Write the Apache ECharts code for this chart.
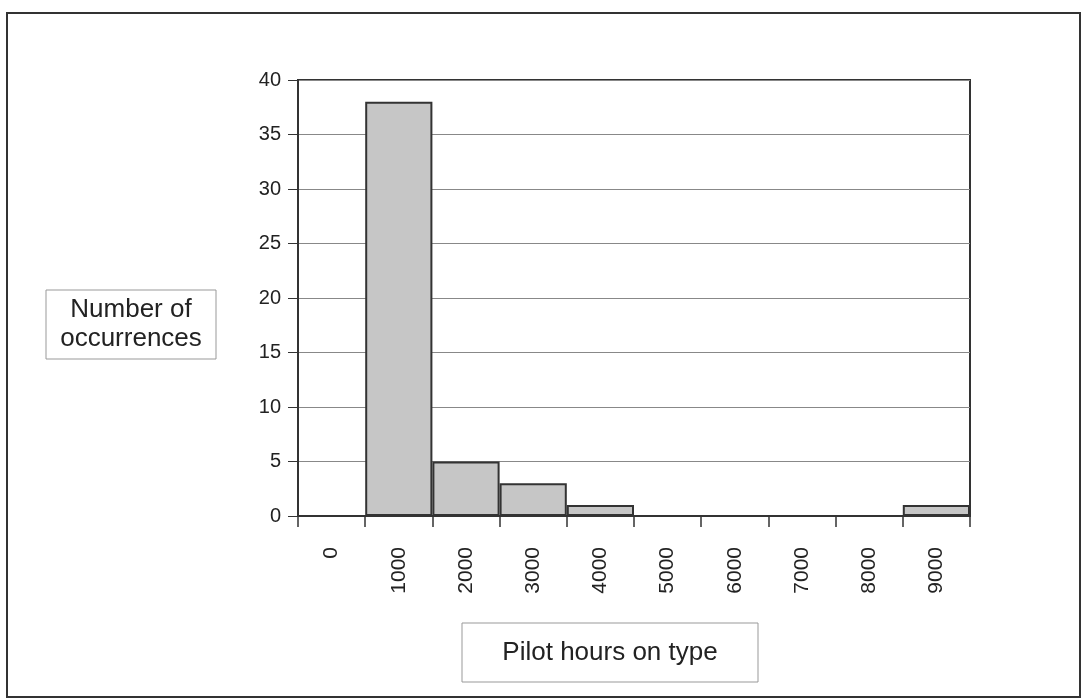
<!DOCTYPE html>
<html>
<head>
<meta charset="utf-8">
<script src="https://cdn.jsdelivr.net/npm/echarts@6/dist/echarts.min.js"></script>
<style>
  html, body { margin: 0; padding: 0; background: #fff; }
  #chart { width: 1083px; height: 700px; }
</style>
</head>
<body>
<div id="chart"></div>
<script>
// histogram bins (hours on type) and counts
var hourBins = ['0', '1000', '2000', '3000', '4000', '5000', '6000', '7000', '8000', '9000'];
var occurrences = [0, 38, 5, 3, 1, 0, 0, 0, 0, 1];
var yTicks = [0, 5, 10, 15, 20, 25, 30, 35, 40];
var yTitle = 'Number of\noccurrences';
var xTitle = 'Pilot hours on type';

var chart = echarts.init(document.getElementById('chart'));
var font = '"Liberation Sans", Arial, sans-serif';

// boxed axis titles
function titleBox(x, y, w, h, txt) {
  return [{
    type: 'rect',
    shape: { x: x, y: y, width: w, height: h },
    style: { fill: '#fff', stroke: '#999', lineWidth: 1 },
    silent: true
  }, {
    type: 'text',
    x: x + w / 2, y: y + h / 2,
    style: {
      text: txt, fontFamily: font, fontSize: 26, fill: '#222',
      align: 'center', verticalAlign: 'middle', lineHeight: 29
    },
    silent: true
  }];
}

var option = {
  backgroundColor: '#fff',
  animation: false,
  graphic: [{
    type: 'rect',
    shape: { x: 7, y: 13, width: 1073, height: 684 },
    style: { fill: 'none', stroke: '#333', lineWidth: 2 },
    silent: true
  }].concat(titleBox(46, 290, 170, 69, yTitle), titleBox(462, 623, 296, 59, xTitle)),
  grid: {
    left: 298, top: 80, width: 672, height: 436,
    show: true, borderColor: '#333', borderWidth: 2, backgroundColor: 'transparent'
  },
  xAxis: {
    type: 'category',
    data: hourBins,
    boundaryGap: true,
    axisLine: { lineStyle: { color: '#333', width: 2 } },
    axisTick: { show: true, length: 11, lineStyle: { color: '#333', width: 1.5 } },
    axisLabel: { rotate: 90, margin: 31, fontFamily: font, fontSize: 21, color: '#222' }
  },
  yAxis: {
    type: 'value',
    min: yTicks[0], max: yTicks[yTicks.length - 1], interval: 5,
    axisLine: { show: true, lineStyle: { color: '#333', width: 2 } },
    axisTick: { show: true, length: 10, lineStyle: { color: '#333', width: 1 } },
    axisLabel: { margin: 17, fontFamily: font, fontSize: 20, color: '#222' },
    splitLine: { lineStyle: { color: '#888', width: 1 } }
  },
  series: [{
    type: 'bar',
    data: occurrences,
    barWidth: '100%',
    barGap: 0,
    itemStyle: { color: '#c6c6c6', borderColor: '#333', borderWidth: 2 }
  }]
};
chart.setOption(option);
</script>
</body>
</html>
